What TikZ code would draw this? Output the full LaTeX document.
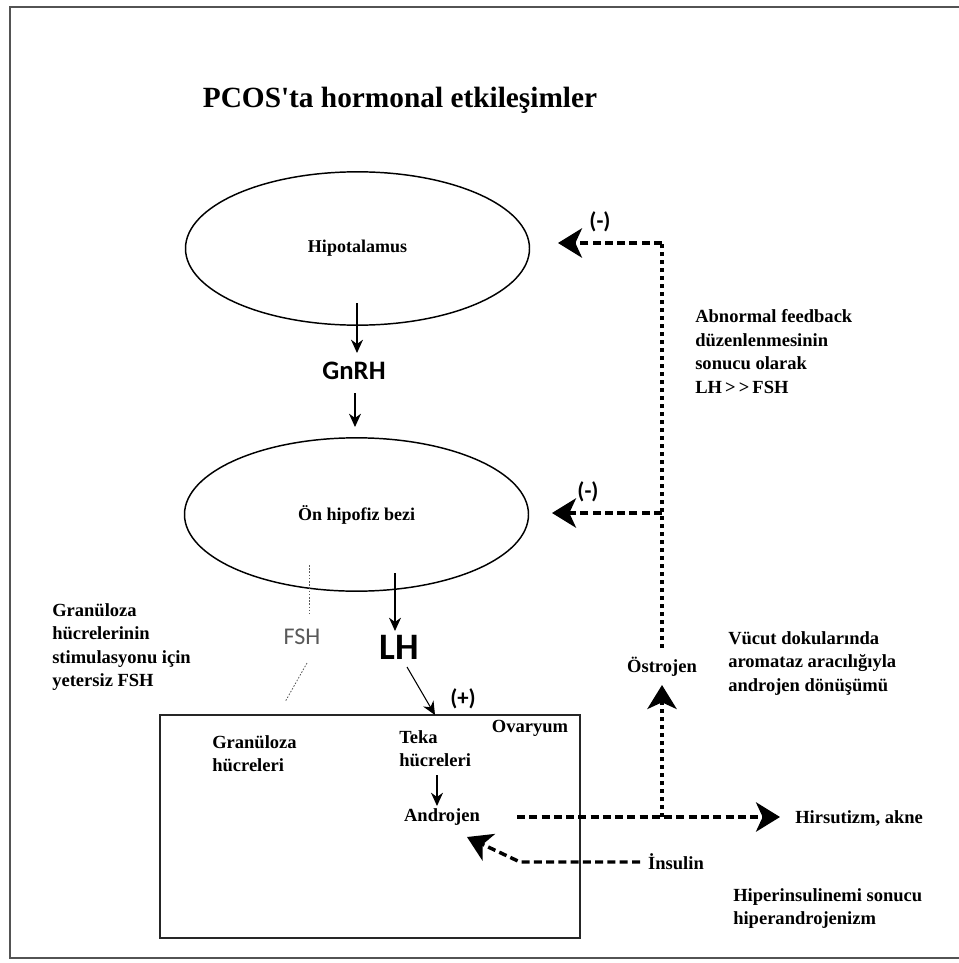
\documentclass[tikz,border=0pt]{standalone}
\usepackage{fontspec}
\setmainfont{Liberation Serif}
\newfontfamily\titlefont{Liberation Serif}
\newfontfamily\calfont{Carlito}
\usetikzlibrary{shapes.geometric,arrows.meta}
\begin{document}
\begin{tikzpicture}[x=0.75pt,y=-0.75pt,
  lbl/.style={font=\bfseries\fontsize{13.9}{17.7}\selectfont, inner sep=0pt, align=left},
  organ/.style={ellipse, draw, line width=1.1pt, minimum width=258pt, minimum height=115pt,
    inner sep=0pt, font=\bfseries\fontsize{13.5}{16}\selectfont},
  hormone/.style={font=\calfont\bfseries\fontsize{20}{22}\selectfont, inner sep=1pt},
  sign/.style={font=\calfont\bfseries\fontsize{17}{20}\selectfont, inner sep=0pt},
  solidarrow/.style={-{Stealth[length=10pt,width=9pt]}, line width=0.8pt},
  fbh/.style={line width=2.6pt, dash pattern=on 6pt off 3.2pt},
  fbv/.style={line width=2.6pt, dash pattern=on 3.2pt off 2.8pt},
  bigtip/.style={-{Stealth[length=18pt,width=22pt,inset=5pt]}},
  fshline/.style={gray!70!black, line width=0.6pt, dash pattern=on 1.2pt off 1.2pt}
]
\useasboundingbox (0,0) rectangle (959,963);

% outer frame (right side runs off the page)
\draw[gray!65!black, line width=2.2pt] (975,7) -- (10,7) -- (10,958) -- (975,958);

% title
\node[font=\titlefont\bfseries\fontsize{22}{26}\selectfont] (title) at (400,100) {PCOS'ta hormonal etkileşimler};

% glands
\node[organ] (hyp) at (357.5,248.5) {Hipotalamus};
\node[hormone] (gnrh) at (354,371) {GnRH};
\node[organ] (pit) at (356.5,514.5) {Ön hipofiz bezi};

% pituitary outputs
\node[font=\calfont\fontsize{18}{20}\selectfont, text=gray!70!black, inner sep=1pt] (fsh) at (302,637) {FSH};
\node[font=\calfont\bfseries\fontsize{28}{30}\selectfont, inner sep=1pt] (lh) at (399,647) {LH};

% ovary box
\node[draw, gray!30!black, line width=1.4pt, minimum width=315pt, minimum height=167pt, inner sep=0pt] (ovary) at (370,826.5) {};
\node[lbl, anchor=west] (gran) at (212,753.5) {Granüloza\\hücreleri};
\node[lbl, anchor=west] (teka) at (399,748.5) {Teka\\hücreleri};
\node[lbl] (ovlbl) at (530,728) {Ovaryum};
\node[lbl] (andr) at (442,817) {Androjen};

% right-hand side
\node[lbl] (ostro) at (662,667) {Östrojen};
\node[lbl, anchor=west] (hirs) at (795,818) {Hirsutizm, akne};
\node[lbl] (ins) at (676,862) {İnsulin};

% explanatory notes
\node[lbl, anchor=west] (note1) at (695,351.5) {Abnormal feedback\\düzenlenmesinin\\sonucu olarak\\LH\,>\,>\,FSH};
\node[lbl, anchor=west] (note2) at (728,663.5) {Vücut dokularında\\aromataz aracılığıyla\\androjen dönüşümü};
\node[lbl, anchor=west] (note3) at (52,647) {Granüloza\\hücrelerinin\\stimulasyonu için\\yetersiz FSH};
\node[lbl, anchor=west] (note4) at (733,908.5) {Hiperinsulinemi sonucu\\hiperandrojenizm};

% signs
\node[sign] (minus1) at (600,222) {(-)};
\node[sign] (minus2) at (588,492) {(-)};
\node[sign] (plus) at (463,699) {(+)};

% helper points
\coordinate (hypout) at (357,303);
\coordinate (gnrhtip) at (357,353);
\coordinate (gnrhout) at (355,393);
\coordinate (pittip) at (355,427);
\coordinate (lhout) at (395,573);
\coordinate (lhtip) at (395,631);
\coordinate (lhfoot) at (407,667);
\coordinate (tekain) at (435,715);
\coordinate (tekaout) at (437,775);
\coordinate (andrtop) at (437,806);
\coordinate (fshtop) at (309,565);
\coordinate (fshmid) at (309,614);
\coordinate (fshlow) at (307,663);
\coordinate (fshend) at (285,702);
\coordinate (andrstart) at (517,817);
\coordinate (hirstip) at (780,817);
\coordinate (junc) at (662,817);
\coordinate (ostrotip) at (662,685);
\coordinate (ostrotop) at (662,648);
\coordinate (pitjunc) at (662,513);
\coordinate (corner) at (662,243);
\coordinate (hyptip) at (558,243);
\coordinate (pittip2) at (552,513);
\coordinate (insstart) at (640,862);
\coordinate (insbend) at (520,862);
\coordinate (instip) at (467,837);

% hormonal axis
\draw[solidarrow] (hypout) -- (gnrhtip);
\draw[solidarrow] (gnrhout) -- (pittip);
\draw[solidarrow] (lhout) -- (lhtip);
\draw[solidarrow] (lhfoot) -- (tekain);
\draw[solidarrow] (tekaout) -- (andrtop);

% weak FSH signal
\draw[fshline] (fshtop) -- (fshmid);
\draw[fshline] (fshlow) -- (fshend);

% androgen effects
\draw[fbh, bigtip] (andrstart) -- (hirstip);
\draw[fbv, bigtip] (junc) -- (ostrotip);

% abnormal feedback loop
\draw[fbv] (ostrotop) -- (corner);
\draw[fbh, bigtip] (corner) -- (hyptip);
\draw[fbh, bigtip] (pitjunc) -- (pittip2);

% insulin
\draw[fbh, bigtip] (insstart) -- (insbend) -- (instip);
\end{tikzpicture}
\end{document}
